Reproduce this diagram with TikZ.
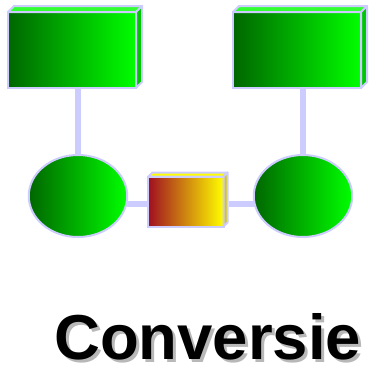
\documentclass[tikz,border=0pt]{standalone}
\usepackage{fontspec}
\usetikzlibrary{shapes.geometric}
\setmainfont{Liberation Sans}
\definecolor{edge}{HTML}{CCCCFF}
\definecolor{dkgreen}{HTML}{006600}
\definecolor{ltgreen}{HTML}{00FF00}
\definecolor{topgreen}{HTML}{33FF33}
\definecolor{sidegreen}{HTML}{00C800}
\definecolor{dkred}{HTML}{A01020}
\definecolor{ltyellow}{HTML}{FFFF00}
\definecolor{sideyellow}{HTML}{D8C800}
\definecolor{shadowgrey}{HTML}{B8B8B8}
\tikzset{
  base/.style={draw=edge,line width=2bp,inner sep=0pt,outer sep=0pt},
  greenfill/.style={left color=dkgreen,right color=ltgreen},
  bigbox/.style={base,rectangle,greenfill,minimum width=128bp,minimum height=76bp},
  oval/.style={base,ellipse,greenfill,minimum width=98.5bp,minimum height=82bp},
  smallbox/.style={base,rectangle,left color=dkred,right color=ltyellow,minimum width=75bp,minimum height=50bp},
  link/.style={draw=edge,line width=6bp},
  facet/.style={draw=edge,line width=2bp,line join=round},
  title/.style={font=\fontsize{63.5bp}{70bp}\selectfont\bfseries,inner sep=0pt,anchor=base west}
}
\begin{document}
\begin{tikzpicture}[x=1bp,y=-1bp]
\useasboundingbox (0,0) rectangle (374,373);
\fill[white] (0,0) rectangle (374,373);
% left box
\node[bigbox] (a) at (72,50) {};
\filldraw[fill=topgreen,facet] (a.north west) -- ++(6,-6) -- ++(128,0) -- (a.north east) -- cycle;
\filldraw[fill=sidegreen,facet] (a.north east) -- ++(6,-6) -- ++(0,76) -- (a.south east) -- cycle;
% right box
\node[bigbox] (b) at (297,50) {};
\filldraw[fill=topgreen,facet] (b.north west) -- ++(6,-6) -- ++(128,0) -- (b.north east) -- cycle;
\filldraw[fill=sidegreen,facet] (b.north east) -- ++(6,-6) -- ++(0,76) -- (b.south east) -- cycle;
% ovals
\node[oval] (c) at (78,196) {};
\node[oval] (d) at (303,196) {};
% centre box
\node[smallbox] (e) at (186,201.5) {};
\filldraw[fill=ltyellow,facet] (e.north west) -- ++(4,-4) -- ++(75,0) -- (e.north east) -- cycle;
\filldraw[fill=sideyellow,facet] (e.north east) -- ++(4,-4) -- ++(0,50) -- (e.south east) -- cycle;
% connectors
\draw[link] (c.north |- a.south) -- (c.north);
\draw[link] (d.north |- b.south) -- (d.north);
\coordinate (cr) at (127,204);
\coordinate (dl) at (254.5,204);
\draw[link] (cr) -- (cr -| e.west);
\draw[link] (dl) -- ([xshift=5bp]dl -| e.east);
% title
\node[title,text=shadowgrey] (ts) at (57,362) {Conversie};
\node[title,text=black] (t) at (54,359) {Conversie};
\end{tikzpicture}
\end{document}
